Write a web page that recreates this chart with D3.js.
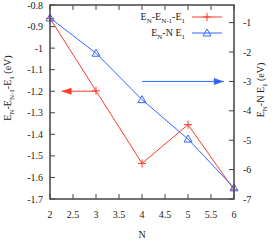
<!DOCTYPE html>
<html>
<head>
<meta charset="utf-8">
<script src="https://cdn.jsdelivr.net/npm/d3@7"></script>
<style>
  body { margin: 0; background: #fff; }
  svg text { font-family: "Liberation Serif", "DejaVu Serif", serif; fill: #222; }
</style>
</head>
<body>
<div id="graph"></div>
<script>
// 数据
const nValues = [2, 3, 4, 5, 6]
const diffValues = [-0.862, -1.198, -1.535, -1.355, -1.657]   // E_N - E_{N-1} - E_1 (左轴)
const totalValues = [-0.84, -2.04, -3.62, -4.96, -6.62]       // E_N - N E_1 (右轴)
const xTicks = [2, 2.5, 3, 3.5, 4, 4.5, 5, 5.5, 6]
const yTicks = [-0.8, -0.9, -1, -1.1, -1.2, -1.3, -1.4, -1.5, -1.6, -1.7]
const y2Ticks = [-1, -2, -3, -4, -5, -6, -7]

const width = 275, height = 241
const mLeft = 50, mRight = 234, mTop = 5, mBottom = 199
const red = "#ff3b2a", blue = "#3366ff", axisColor = "#444"

const svg = d3.select("#graph").append("svg")
    .attr("width", width)
    .attr("height", height)

const x = d3.scaleLinear().domain([2, 6]).range([mLeft, mRight])
const y = d3.scaleLinear().domain([-1.7, -0.8]).range([mBottom, mTop])
const y2 = d3.scaleLinear().domain([-7, -0.4]).range([mBottom, mTop])

// 刻度 (向内)
const tl = 5
const ticks = svg.append("g").attr("stroke", axisColor).attr("stroke-width", 1)
xTicks.forEach(v => {
    ticks.append("line").attr("x1", x(v)).attr("x2", x(v)).attr("y1", mBottom).attr("y2", mBottom - tl)
    ticks.append("line").attr("x1", x(v)).attr("x2", x(v)).attr("y1", mTop).attr("y2", mTop + tl)
})
yTicks.forEach(v => {
    ticks.append("line").attr("x1", mLeft).attr("x2", mLeft + tl).attr("y1", y(v)).attr("y2", y(v))
})
y2Ticks.forEach(v => {
    ticks.append("line").attr("x1", mRight).attr("x2", mRight - tl).attr("y1", y2(v)).attr("y2", y2(v))
})

// 刻度标签
svg.append("g").selectAll("text").data(xTicks).enter().append("text")
    .attr("x", d => x(d)).attr("y", 218)
    .attr("text-anchor", "middle").attr("font-size", 10)
    .text(d => d)
svg.append("g").selectAll("text").data(yTicks).enter().append("text")
    .attr("x", mLeft - 7).attr("y", d => y(d) + 3.5)
    .attr("text-anchor", "end").attr("font-size", 10)
    .text(d => d)
svg.append("g").selectAll("text").data(y2Ticks).enter().append("text")
    .attr("x", mRight + 9).attr("y", d => y2(d) + 3.5)
    .attr("text-anchor", "start").attr("font-size", 10)
    .text(d => d)

// 轴标题
svg.append("text").attr("x", 142).attr("y", 238)
    .attr("text-anchor", "middle").attr("font-size", 10).text("N")

const yl = svg.append("text")
    .attr("transform", "translate(11,88) rotate(-90)")
    .attr("text-anchor", "middle").attr("font-size", 10)
yl.append("tspan").text("E")
yl.append("tspan").attr("font-size", 7).attr("dy", 2.5).text("N")
yl.append("tspan").attr("dy", -2.5).text("-E")
yl.append("tspan").attr("font-size", 7).attr("dy", 2.5).text("N-1")
yl.append("tspan").attr("dy", -2.5).text("-E")
yl.append("tspan").attr("font-size", 7).attr("dy", 2.5).text("1")
yl.append("tspan").attr("dy", -2.5).text(" (eV)")

const y2l = svg.append("text")
    .attr("transform", "translate(264,90) rotate(-90)")
    .attr("text-anchor", "middle").attr("font-size", 10)
y2l.append("tspan").text("E")
y2l.append("tspan").attr("font-size", 7).attr("dy", 2.5).text("N")
y2l.append("tspan").attr("dy", -2.5).text("-N E")
y2l.append("tspan").attr("font-size", 7).attr("dy", 2.5).text("1")
y2l.append("tspan").attr("dy", -2.5).text(" (eV)")

// 数据线
const diffData = nValues.map((n, i) => ({n: n, v: diffValues[i]}))
const totalData = nValues.map((n, i) => ({n: n, v: totalValues[i]}))

svg.append("path").datum(diffData)
    .attr("fill", "none").attr("stroke", red).attr("stroke-width", 1)
    .attr("d", d3.line().x(d => x(d.n)).y(d => y(d.v)))
svg.append("path").datum(totalData)
    .attr("fill", "none").attr("stroke", blue).attr("stroke-width", 1)
    .attr("d", d3.line().x(d => x(d.n)).y(d => y2(d.v)))

function drawPlus(g, cx, cy) {
    g.append("path").attr("d", `M${cx - 4},${cy}H${cx + 4}M${cx},${cy - 4}V${cy + 4}`)
        .attr("stroke", red).attr("stroke-width", 1).attr("fill", "none")
}
function drawTri(g, cx, cy) {
    g.append("path").attr("d", `M${cx},${cy - 4}L${cx + 4},${cy + 3}L${cx - 4},${cy + 3}Z`)
        .attr("stroke", blue).attr("stroke-width", 1).attr("fill", "none")
}
const marks = svg.append("g")
diffData.forEach(d => drawPlus(marks, x(d.n), y(d.v)))
totalData.forEach(d => drawTri(marks, x(d.n), y2(d.v)))

// 箭头
function arrow(x1, x2, yy, color) {
    svg.append("line").attr("x1", x1).attr("x2", x2).attr("y1", yy).attr("y2", yy)
        .attr("stroke", color).attr("stroke-width", 1)
    const dir = x2 > x1 ? 1 : -1
    svg.append("path")
        .attr("d", `M${x2},${yy}L${x2 - dir * 10},${yy - 3.5}L${x2 - dir * 10},${yy + 3.5}Z`)
        .attr("fill", color)
}
arrow(x(3), x(2.25), y(-1.2), red)
arrow(x(4), x(5.78), y2(-3), blue)

// 图例
const legend = svg.append("g")
const l1 = legend.append("text").attr("x", 185).attr("y", 20)
    .attr("text-anchor", "end").attr("font-size", 10)
l1.append("tspan").text("E")
l1.append("tspan").attr("font-size", 7).attr("dy", 2.5).text("N")
l1.append("tspan").attr("dy", -2.5).text("-E")
l1.append("tspan").attr("font-size", 7).attr("dy", 2.5).text("N-1")
l1.append("tspan").attr("dy", -2.5).text("-E")
l1.append("tspan").attr("font-size", 7).attr("dy", 2.5).text("1")
const l2 = legend.append("text").attr("x", 185).attr("y", 36)
    .attr("text-anchor", "end").attr("font-size", 10)
l2.append("tspan").text("E")
l2.append("tspan").attr("font-size", 7).attr("dy", 2.5).text("N")
l2.append("tspan").attr("dy", -2.5).text("-N E")
l2.append("tspan").attr("font-size", 7).attr("dy", 2.5).text("1")

legend.append("line").attr("x1", 192).attr("x2", 222).attr("y1", 17).attr("y2", 17)
    .attr("stroke", red).attr("stroke-width", 1)
drawPlus(legend, 207, 17)
legend.append("line").attr("x1", 192).attr("x2", 222).attr("y1", 33).attr("y2", 33)
    .attr("stroke", blue).attr("stroke-width", 1)
drawTri(legend, 207, 33)

// 边框
svg.append("rect").attr("x", mLeft).attr("y", mTop)
    .attr("width", mRight - mLeft).attr("height", mBottom - mTop)
    .attr("fill", "none").attr("stroke", axisColor).attr("stroke-width", 1.5)
</script>
</body>
</html>
